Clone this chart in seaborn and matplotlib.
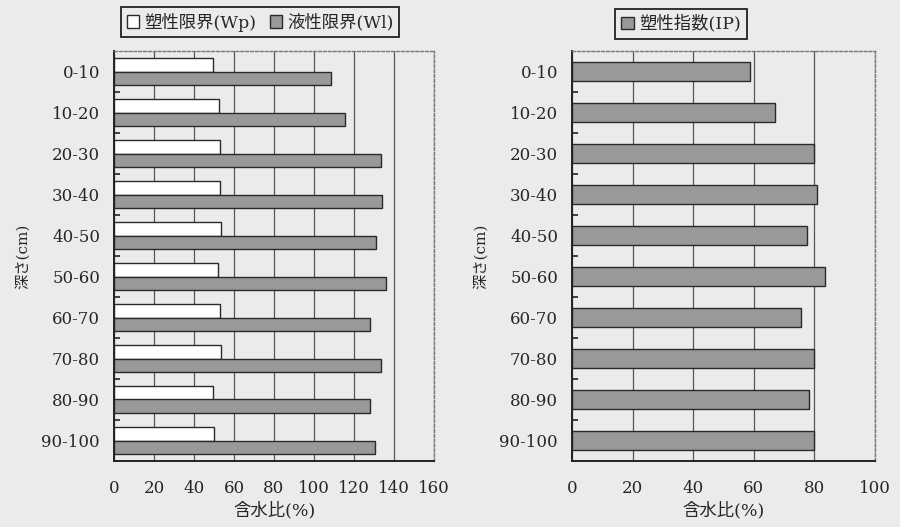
import numpy as np
import pandas as pd
import matplotlib.pyplot as plt
import seaborn as sns

# データ
depth = ['0-10', '10-20', '20-30', '30-40', '40-50',
         '50-60', '60-70', '70-80', '80-90', '90-100']
wp = [49.5, 52.3, 53.0, 53.0, 53.3, 52.0, 52.8, 53.7, 49.5, 50.0]          # 塑性限界
wl = [108.7, 115.3, 133.3, 134.0, 130.8, 136.1, 128.1, 133.6, 127.8, 130.3]  # 液性限界
ip = [58.9, 67.1, 79.8, 80.7, 77.4, 83.6, 75.7, 79.8, 78.2, 80.0]            # 塑性指数

lab_wp = '塑性限界(Wp)'
lab_wl = '液性限界(Wl)'
lab_ip = '塑性指数(IP)'
xlabel = '含水比(%)'
ylabel = '深さ(cm)'

bg = '#ebebeb'
bar_gray = '#999999'
edge = '#2a2a2a'

sns.set_theme(style='white')
plt.rcParams['font.family'] = ['DejaVu Serif', 'Noto Sans CJK JP']
plt.rcParams['axes.unicode_minus'] = False

df_limit = pd.DataFrame({
    'depth': depth * 2,
    'value': wp + wl,
    'kind': [lab_wp] * len(depth) + [lab_wl] * len(depth),
})
df_ip = pd.DataFrame({'depth': depth, 'value': ip})

fig = plt.figure(figsize=(9, 5.27), dpi=100, facecolor=bg)
ax1 = fig.add_axes([114 / 900, 1 - 461 / 527, 320 / 900, 410 / 527])
ax2 = fig.add_axes([572 / 900, 1 - 461 / 527, 303 / 900, 410 / 527])

# 左：塑性限界・液性限界
sns.barplot(data=df_limit, y='depth', x='value', hue='kind', orient='h',
            order=depth, hue_order=[lab_wp, lab_wl],
            palette={lab_wp: 'white', lab_wl: bar_gray},
            width=0.66, edgecolor=edge, linewidth=1.0, ax=ax1)

# 右：塑性指数
sns.barplot(data=df_ip, y='depth', x='value', orient='h', order=depth,
            color=bar_gray, width=0.44, edgecolor=edge, linewidth=1.0,
            label=lab_ip, ax=ax2)

for ax, xmax in [(ax1, 160), (ax2, 100)]:
    ax.set_facecolor(bg)
    ax.set_xlim(0, xmax)
    ax.set_ylim(len(depth) - 0.5, -0.5)
    ax.set_xticks(np.arange(0, xmax + 1, 20))
    ax.set_yticks(np.arange(0.5, len(depth) - 1, 1.0), minor=True)
    ax.tick_params(axis='y', which='major', length=0, pad=10, labelsize=12)
    ax.tick_params(axis='y', which='minor', direction='in', length=4,
                   width=1.2, color='#222', left=True)
    ax.tick_params(axis='x', length=0, pad=14, labelsize=12)
    ax.grid(axis='x', color='#555555', linewidth=0.9)
    ax.set_axisbelow(True)
    for s in ['left', 'bottom']:
        ax.spines[s].set_color('#222')
        ax.spines[s].set_linewidth(1.4)
    for s in ['top', 'right']:
        ax.spines[s].set_color('#777')
        ax.spines[s].set_linewidth(1.0)
        ax.spines[s].set_linestyle((0, (2, 1.5)))
    ax.set_xlabel(xlabel, fontsize=12.5, labelpad=3)
    ax.set_ylabel(ylabel, fontsize=11, labelpad=8)

# 凡例
h1, l1 = ax1.get_legend_handles_labels()
ax1.legend(h1, l1, loc='center', bbox_to_anchor=(260 / 900, 1 - 22 / 527),
           bbox_transform=fig.transFigure, ncol=2, fontsize=12.5,
           frameon=True, fancybox=False, edgecolor='#111', facecolor=bg,
           framealpha=1, handlelength=0.7, handleheight=0.7,
           handletextpad=0.3, columnspacing=0.8, borderpad=0.3,
           borderaxespad=0)
h2, l2 = ax2.get_legend_handles_labels()
ax2.legend(h2, l2, loc='center', bbox_to_anchor=(681 / 900, 1 - 24 / 527),
           bbox_transform=fig.transFigure, fontsize=12.5,
           frameon=True, fancybox=False, edgecolor='#111', facecolor=bg,
           framealpha=1, handlelength=0.7, handleheight=0.7,
           handletextpad=0.3, borderpad=0.35, borderaxespad=0)
for lg in [ax1.get_legend(), ax2.get_legend()]:
    lg.get_frame().set_linewidth(1.2)

fig.savefig('out.png', dpi=100, facecolor=bg)
